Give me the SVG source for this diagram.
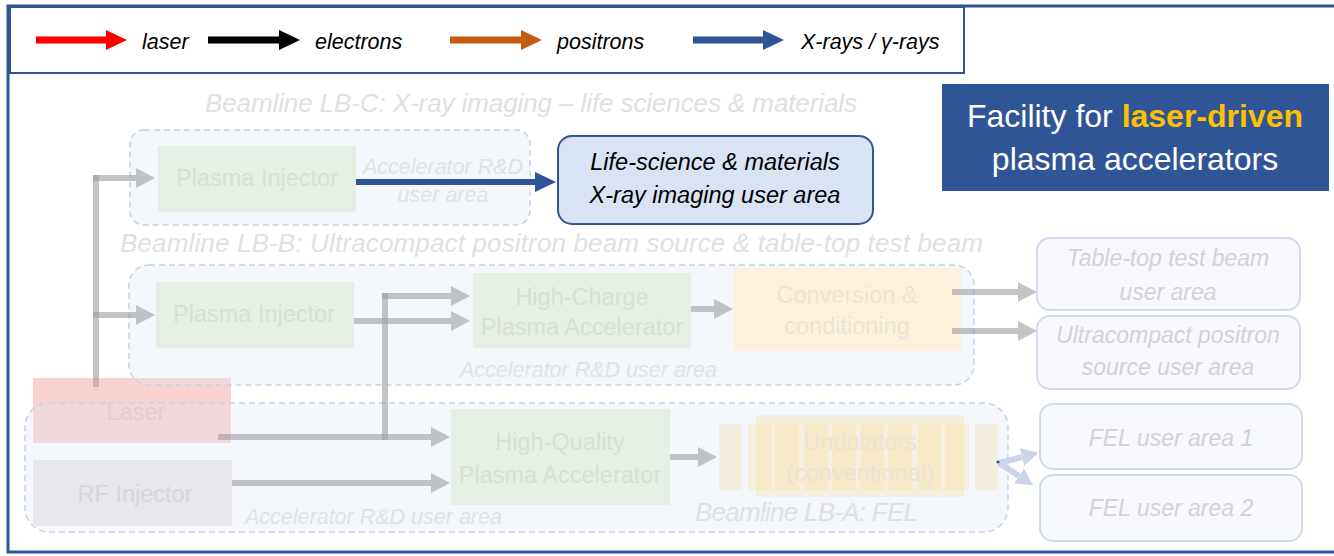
<svg xmlns="http://www.w3.org/2000/svg" width="1334" height="556" viewBox="0 0 1334 556">
<style>
text{font-family:"Liberation Sans",Arial,sans-serif}
.it{font-style:italic}
.cont{fill:#DCE4F4;fill-opacity:0.3;stroke:#C7D1E5;stroke-width:1.5;stroke-dasharray:6 4}
.grn{fill:#E6EFE4}
.gt{fill:#D6DFD3;font-size:23.5px;text-anchor:middle}
.ttl{fill:#E0E0E2;font-size:26px;font-style:italic}
.lab{fill:#E2E2E5;font-size:21.5px;font-style:italic}
.ua{fill:#F7F9FC;stroke:#D3DBEB;stroke-width:2}
.uat{fill:#D2D2D6;font-size:23px;font-style:italic;text-anchor:middle}
.ga{fill:none;stroke:#9E9EA3;stroke-opacity:0.6;stroke-width:6;marker-end:url(#hg)}
.fa{fill:none;stroke:#C9D4E8;stroke-width:6;marker-end:url(#hf)}
.und{fill:#F8DC8C;fill-opacity:0.28}
.leg{font-size:21.5px;font-style:italic;fill:#000}
</style>
<defs>
<marker id="hg" markerUnits="userSpaceOnUse" markerWidth="19" markerHeight="20" viewBox="0 0 19 20" refX="0" refY="10" orient="auto"><path d="M0,0 L19,10 L0,20 z" fill="#9E9EA3" fill-opacity="0.6"/></marker>
<marker id="hb" markerUnits="userSpaceOnUse" markerWidth="21" markerHeight="20" viewBox="0 0 21 20" refX="0" refY="10" orient="auto"><path d="M0,0 L21,10 L0,20 z" fill="#2F5597"/></marker>
<marker id="hf" markerUnits="userSpaceOnUse" markerWidth="17" markerHeight="18" viewBox="0 0 17 18" refX="0" refY="9" orient="auto"><path d="M0,0 L17,9 L0,18 z" fill="#C9D4E8"/></marker>
</defs>
<rect x="0" y="0" width="1334" height="556" fill="#FFFFFF"/>
<rect x="8" y="6" width="1400" height="546" fill="none" stroke="#2F5597" stroke-width="3"/>

<g id="legend">
<rect x="10" y="7" width="954" height="66" fill="#FFFFFF" stroke="#2F5597" stroke-width="2"/>
<line x1="36" y1="40" x2="106" y2="40" stroke="#FF0000" stroke-width="7"/>
<polygon points="106,30 127,40 106,50" fill="#FF0000"/>
<text class="leg" x="142" y="49">laser</text>
<line x1="208" y1="40" x2="279" y2="40" stroke="#000000" stroke-width="7"/>
<polygon points="279,30 300,40 279,50" fill="#000000"/>
<text class="leg" x="315" y="49">electrons</text>
<line x1="450" y1="40" x2="521" y2="40" stroke="#C55A11" stroke-width="7"/>
<polygon points="521,30 542,40 521,50" fill="#C55A11"/>
<text class="leg" x="557" y="49">positrons</text>
<line x1="693" y1="40" x2="763" y2="40" stroke="#2F5597" stroke-width="7"/>
<polygon points="763,30 784,40 763,50" fill="#2F5597"/>
<text class="leg" x="801" y="49">X-rays / γ-rays</text>
</g>

<g id="title">
<rect x="942" y="84" width="387" height="107" fill="#2F5597"/>
<text x="1135" y="127" font-size="32" fill="#FFFFFF" text-anchor="middle">Facility for <tspan fill="#FFC000" font-weight="bold">laser-driven</tspan></text>
<text x="1135" y="170" font-size="32" fill="#FFFFFF" text-anchor="middle">plasma accelerators</text>
</g>

<g id="laser">
<rect x="33" y="378" width="198" height="65" fill="#F9D1CF"/>
<text x="136" y="420" font-size="23.5" fill="#EBBFBD" text-anchor="middle">Laser</text>
</g>

<g id="beamline-lb-c">
<text class="ttl" x="205" y="112" textLength="652">Beamline LB-C: X-ray imaging – life sciences &amp; materials</text>
<rect class="cont" x="130" y="130" width="400" height="95" rx="14"/>
<text class="lab" x="443" y="174" text-anchor="middle">Accelerator R&amp;D</text>
<text class="lab" x="443" y="202" text-anchor="middle">user area</text>
</g>

<g id="beamline-lb-b">
<text class="ttl" x="120" y="252" textLength="863">Beamline LB-B: Ultracompact positron beam source &amp; table-top test beam</text>
<rect class="cont" x="129" y="265" width="845" height="120" rx="20"/>
<text class="lab" x="460" y="377">Accelerator R&amp;D user area</text>
</g>

<g id="beamline-lb-a">
<rect class="cont" x="25" y="403" width="983" height="129" rx="24"/>
<text class="lab" x="245" y="524">Accelerator R&amp;D user area</text>
<text class="ttl" x="695" y="521" font-size="23" textLength="223">Beamline LB-A: FEL</text>
</g>

<g id="plasma-injector-c">
<rect class="grn" x="158" y="146" width="198" height="66"/>
<text class="gt" x="257" y="186">Plasma Injector</text>
</g>

<g id="xray-user-area">
<rect x="558" y="136" width="315" height="88" rx="14" fill="#DAE3F3" stroke="#2F5597" stroke-width="2"/>
<text x="715" y="170" font-size="23.5" font-style="italic" fill="#000" text-anchor="middle">Life-science &amp; materials</text>
<text x="715" y="203" font-size="23.5" font-style="italic" fill="#000" text-anchor="middle">X-ray imaging user area</text>
</g>

<g id="plasma-injector-b">
<rect class="grn" x="156" y="282" width="198" height="66"/>
<text class="gt" x="254" y="322">Plasma Injector</text>
</g>

<g id="high-charge">
<rect class="grn" x="473" y="273" width="218" height="75"/>
<text class="gt" x="582" y="305">High-Charge</text>
<text class="gt" x="582" y="335">Plasma Accelerator</text>
</g>

<g id="conversion">
<rect x="734" y="268" width="227" height="83" fill="#FCF2DC"/>
<text class="gt" x="847" y="303" fill="#EAE3D7" style="fill:#EAE3D7">Conversion &amp;</text>
<text class="gt" x="847" y="334" style="fill:#EAE3D7">conditioning</text>
</g>

<g id="table-top">
<rect class="ua" x="1037" y="238" width="263" height="72" rx="13"/>
<text class="uat" x="1168" y="266">Table-top test beam</text>
<text class="uat" x="1168" y="300">user area</text>
</g>

<g id="ultracompact">
<rect class="ua" x="1037" y="316" width="263" height="73" rx="13"/>
<text class="uat" x="1168" y="343">Ultracompact positron</text>
<text class="uat" x="1168" y="375">source user area</text>
</g>

<g id="rf-injector">
<rect x="33" y="460" width="199" height="66" fill="#E7E6EA"/>
<text x="135" y="502" font-size="23.5" fill="#D6D5DA" text-anchor="middle">RF Injector</text>
</g>

<g id="high-quality">
<rect class="grn" x="451" y="409" width="219" height="96"/>
<text class="gt" x="560" y="450">High-Quality</text>
<text class="gt" x="560" y="483">Plasma Accelerator</text>
</g>

<g id="undulators">
<rect class="und" x="756" y="415" width="208" height="82"/>
<rect class="und" x="719" y="424" width="23" height="66"/>
<rect class="und" x="748" y="424" width="23" height="66"/>
<rect class="und" x="775" y="424" width="24" height="66"/>
<rect class="und" x="804" y="424" width="24" height="66"/>
<rect class="und" x="832" y="424" width="24" height="66"/>
<rect class="und" x="861" y="424" width="23" height="66"/>
<rect class="und" x="888" y="424" width="24" height="66"/>
<rect class="und" x="918" y="424" width="23" height="66"/>
<rect class="und" x="946" y="424" width="23" height="66"/>
<rect class="und" x="975" y="424" width="23" height="66"/>
<text class="gt" x="860" y="450" style="fill:#E8E2D6">Undulators</text>
<text class="gt" x="860" y="481" style="fill:#E8E2D6">(conventional)</text>
</g>

<g id="fel-1">
<rect class="ua" x="1040" y="404" width="262" height="65" rx="13"/>
<text class="uat" x="1171" y="446">FEL user area 1</text>
</g>

<g id="fel-2">
<rect class="ua" x="1040" y="475" width="262" height="66" rx="13"/>
<text class="uat" x="1171" y="516">FEL user area 2</text>
</g>

<g id="connectors">
<path class="ga" d="M96,387 V175" style="marker-end:none"/>
<path class="ga" d="M93,178 H136"/>
<path class="ga" d="M93,315 H136"/>
<path class="ga" d="M218,437 H431"/>
<path class="ga" d="M385,440 V293" style="marker-end:none"/>
<path class="ga" d="M382,296 H451"/>
<path class="ga" d="M354,321 H451"/>
<path class="ga" d="M232,483 H431"/>
<path class="ga" d="M691,309 H714"/>
<path class="ga" d="M952,292 H1018"/>
<path class="ga" d="M952,331 H1018"/>
<path class="ga" d="M670,457 H698"/>
<path d="M356,182 H535" fill="none" stroke="#2F5597" stroke-width="6" marker-end="url(#hb)"/>
<path class="fa" d="M999,463 L1022,457"/>
<path class="fa" d="M999,463 L1019,476"/>
<circle cx="998" cy="462" r="1.6" fill="#2F5597"/>
</g>
</svg>
